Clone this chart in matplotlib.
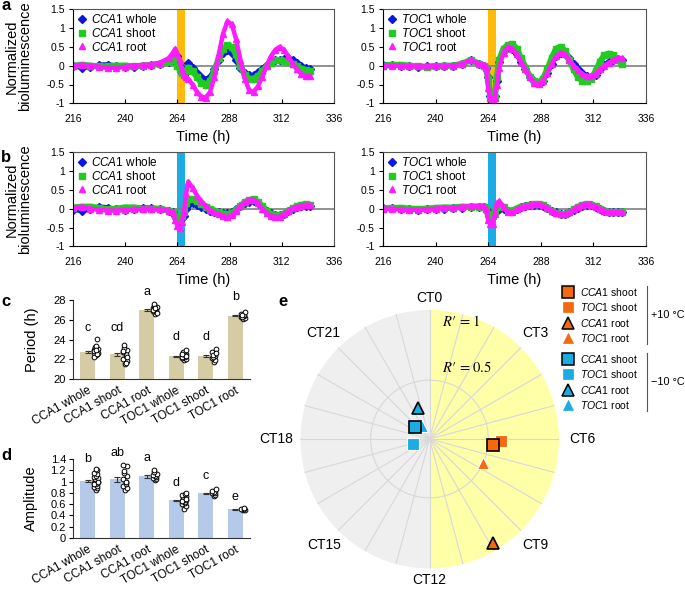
import numpy as np
import matplotlib
matplotlib.use('Agg')
import matplotlib.pyplot as plt
from matplotlib.lines import Line2D
from matplotlib.ticker import FuncFormatter

plt.rcParams['font.family'] = ['Liberation Sans', 'DejaVu Sans']
plt.rcParams['mathtext.fontset'] = 'custom'
plt.rcParams['mathtext.rm'] = 'Liberation Sans'
plt.rcParams['mathtext.it'] = 'Liberation Sans:italic'
plt.rcParams['mathtext.bf'] = 'Liberation Sans:bold'
plt.rcParams['axes.unicode_minus'] = False

# ---- time courses (normalized bioluminescence) ----
t_hours = [216, 220, 224, 228, 232, 236, 240, 244, 248, 252, 256, 260,
           262, 263, 264, 265, 266, 267, 268, 269,
           271, 273, 275, 277, 279, 281, 283, 285, 287, 289, 291, 293, 295, 297,
           299, 301, 303, 305, 307, 309, 311, 313, 315, 317, 319, 321, 323, 325]
pulse = (264, 267.5)

# a: +10 C pulse
a_cca1_whole = [0.00, -0.05, -0.03, 0.02, 0.03, 0.00, -0.04, -0.03, 0.00, 0.03, 0.05, 0.10,
                0.15, 0.20, 0.25, 0.00, -0.20, -0.25, -0.10, 0.08,
                -0.05, -0.20, -0.30, -0.37, -0.30, -0.10, 0.15, 0.35, 0.42, 0.35, 0.15, -0.05, -0.20, -0.25,
                -0.25, -0.18, -0.08, 0.02, 0.10, 0.15, 0.15, 0.18, 0.20, 0.15, 0.08, 0.00, -0.07, -0.10]
a_cca1_shoot = [0.00, 0.02, 0.00, -0.02, -0.02, 0.00, 0.00, -0.02, 0.00, 0.02, 0.05, 0.10,
                0.15, 0.20, 0.00, -0.10, -0.20, -0.25, -0.15, -0.05,
                -0.15, -0.30, -0.45, -0.50, -0.42, -0.15, 0.20, 0.45, 0.55, 0.50, 0.30, 0.00, -0.25, -0.35,
                -0.35, -0.28, -0.15, -0.02, 0.08, 0.14, 0.15, 0.13, 0.10, 0.05, -0.02, -0.08, -0.12, -0.15]
a_cca1_root = [0.00, 0.03, 0.00, -0.03, -0.05, -0.05, -0.03, 0.00, 0.02, 0.03, 0.08, 0.20,
               0.35, 0.45, 0.30, 0.15, -0.10, -0.25, -0.30, -0.35,
               -0.50, -0.70, -0.82, -0.85, -0.70, -0.30, 0.30, 0.85, 1.18, 1.10, 0.70, 0.15, -0.35, -0.65,
               -0.70, -0.55, -0.30, 0.00, 0.25, 0.42, 0.50, 0.42, 0.25, 0.05, -0.10, -0.22, -0.28, -0.28]
a_toc1_whole = [0.03, 0.02, 0.00, -0.02, -0.03, -0.02, 0.00, 0.00, 0.00, 0.05, 0.15, 0.05,
                0.00, -0.05, -0.30, -0.80, -0.85, -0.80, -0.40, 0.10,
                0.40, 0.50, 0.45, 0.30, 0.10, -0.10, -0.30, -0.40, -0.45, -0.40, -0.20, 0.05, 0.25, 0.35,
                0.32, 0.20, 0.05, -0.10, -0.20, -0.27, -0.30, -0.25, -0.10, 0.02, 0.10, 0.15, 0.18, 0.15]
a_toc1_shoot = [0.00, 0.02, 0.02, 0.00, -0.02, -0.03, -0.02, 0.00, 0.00, 0.05, 0.15, 0.05,
                0.00, -0.05, -0.35, -0.85, -0.90, -0.85, -0.30, 0.15,
                0.45, 0.55, 0.58, 0.45, 0.20, -0.05, -0.30, -0.42, -0.45, -0.35, -0.10, 0.20, 0.45, 0.50,
                0.40, 0.15, -0.10, -0.30, -0.40, -0.42, -0.35, -0.15, 0.10, 0.28, 0.32, 0.28, 0.15, 0.05]
a_toc1_root = [0.00, 0.00, 0.00, -0.01, -0.02, -0.02, -0.01, 0.00, 0.00, 0.05, 0.15, 0.05,
               0.02, -0.03, -0.60, -0.85, -0.90, -0.85, -0.50, -0.05,
               0.35, 0.50, 0.45, 0.30, 0.10, -0.10, -0.30, -0.45, -0.48, -0.40, -0.20, 0.05, 0.25, 0.35,
               0.30, 0.15, 0.00, -0.12, -0.22, -0.28, -0.28, -0.22, -0.10, 0.00, 0.08, 0.15, 0.20, 0.20]

# b: -10 C pulse
b_cca1_whole = [-0.03, -0.05, 0.00, 0.05, 0.03, -0.02, -0.04, 0.00, 0.03, 0.02, 0.00, -0.05,
                -0.10, -0.20, -0.30, -0.30, -0.25, -0.20, 0.00, 0.10,
                0.15, 0.10, 0.05, 0.00, -0.05, -0.08, -0.10, -0.12, -0.12, -0.08, 0.00, 0.08, 0.15, 0.19,
                0.20, 0.15, 0.05, -0.05, -0.12, -0.16, -0.17, -0.13, -0.07, -0.01, 0.04, 0.07, 0.08, 0.06]
b_cca1_shoot = [0.03, 0.05, 0.05, 0.02, -0.02, 0.00, 0.03, 0.03, 0.00, 0.00, 0.00, -0.05,
                -0.10, -0.20, -0.30, -0.35, -0.20, -0.10, 0.15, 0.25,
                0.25, 0.20, 0.12, 0.05, 0.00, -0.05, -0.10, -0.13, -0.15, -0.12, -0.03, 0.07, 0.17, 0.23,
                0.25, 0.18, 0.06, -0.06, -0.14, -0.18, -0.18, -0.13, -0.06, 0.01, 0.06, 0.10, 0.12, 0.10]
b_cca1_root = [0.03, 0.05, 0.00, -0.03, -0.05, -0.05, -0.03, -0.02, 0.00, 0.00, -0.02, -0.05,
               -0.10, -0.30, -0.45, -0.50, -0.35, -0.10, 0.40, 0.72,
               0.55, 0.35, 0.20, 0.07, -0.03, -0.10, -0.15, -0.20, -0.22, -0.18, -0.05, 0.08, 0.18, 0.24,
               0.24, 0.15, 0.00, -0.12, -0.19, -0.22, -0.21, -0.14, -0.06, 0.01, 0.05, 0.08, 0.10, 0.10]
b_toc1_whole = [0.02, 0.02, 0.00, -0.02, -0.03, -0.02, 0.00, 0.00, 0.02, 0.03, 0.05, 0.05,
                0.05, 0.00, -0.10, -0.15, -0.15, -0.10, -0.05, 0.00,
                0.00, -0.05, -0.05, 0.00, 0.04, 0.07, 0.09, 0.10, 0.10, 0.08, 0.02, -0.05, -0.10, -0.14,
                -0.15, -0.10, -0.03, 0.03, 0.08, 0.10, 0.10, 0.05, 0.00, -0.05, -0.08, -0.10, -0.10, -0.10]
b_toc1_shoot = [0.00, 0.02, 0.02, 0.00, -0.01, 0.00, 0.02, 0.03, 0.03, 0.05, 0.05, 0.05,
                0.05, 0.00, -0.15, -0.25, -0.20, -0.10, 0.05, 0.10,
                0.05, -0.05, -0.05, 0.00, 0.05, 0.08, 0.10, 0.12, 0.12, 0.09, 0.02, -0.06, -0.12, -0.15,
                -0.15, -0.10, -0.02, 0.05, 0.10, 0.12, 0.11, 0.06, 0.00, -0.05, -0.08, -0.10, -0.10, -0.08]
b_toc1_root = [0.00, 0.00, -0.02, -0.03, -0.03, -0.02, 0.00, 0.02, 0.03, 0.05, 0.07, 0.08,
               0.08, 0.00, -0.30, -0.42, -0.40, -0.15, 0.15, 0.20,
               0.05, -0.08, -0.08, -0.02, 0.04, 0.08, 0.10, 0.12, 0.12, 0.09, 0.02, -0.06, -0.12, -0.15,
               -0.15, -0.10, -0.02, 0.05, 0.10, 0.12, 0.11, 0.05, -0.01, -0.06, -0.09, -0.10, -0.10, -0.10]

# ---- c, d: period and amplitude ----
groups = ['CCA1 whole', 'CCA1 shoot', 'CCA1 root', 'TOC1 whole', 'TOC1 shoot', 'TOC1 root']
period_mean = [22.7, 22.5, 27.0, 22.3, 22.3, 26.4]
period_se = [0.10, 0.15, 0.08, 0.06, 0.10, 0.06]
period_letters = ['c', 'cd', 'a', 'd', 'd', 'b']
period_pts = [
    [22.4, 22.5, 22.6, 22.7, 22.8, 22.9, 23.0, 23.1, 23.2, 22.6, 22.8, 23.3, 24.1, 22.2, 22.5, 22.9],
    [21.5, 21.8, 22.0, 22.3, 22.5, 22.7, 22.9, 23.1, 23.4, 22.2, 22.8, 21.6],
    [26.6, 26.8, 26.9, 27.0, 27.1, 27.2, 27.3, 27.4, 27.6, 26.7, 27.0, 27.2],
    [21.9, 22.0, 22.1, 22.2, 22.3, 22.4, 22.5, 22.6, 22.7, 22.9, 22.2, 22.4, 22.3, 22.5],
    [21.7, 21.9, 22.1, 22.3, 22.5, 22.7, 23.0, 22.2, 22.4, 22.6],
    [26.1, 26.2, 26.3, 26.4, 26.5, 26.6, 26.8, 26.3, 26.5],
]
amp_mean = [1.01, 1.04, 1.09, 0.67, 0.79, 0.51]
amp_se = [0.02, 0.04, 0.02, 0.01, 0.01, 0.01]
amp_letters = ['b', 'ab', 'a', 'd', 'c', 'e']
amp_pts = [
    [0.85, 0.88, 0.90, 0.93, 0.96, 0.98, 1.00, 1.02, 1.04, 1.06, 1.08, 1.10, 1.13, 1.16, 1.20, 1.22, 0.95, 1.00],
    [0.85, 0.88, 0.92, 0.95, 1.00, 1.05, 1.10, 1.15, 1.18, 1.28, 1.30, 1.00],
    [1.02, 1.04, 1.06, 1.08, 1.10, 1.12, 1.14, 1.17, 1.20],
    [0.52, 0.56, 0.60, 0.62, 0.64, 0.66, 0.68, 0.70, 0.72, 0.74, 0.76, 0.78, 0.80, 0.65, 0.70],
    [0.75, 0.77, 0.79, 0.80, 0.82, 0.84, 0.86],
    [0.49, 0.50, 0.51, 0.52, 0.53],
]

# ---- e: phase (CT) and R' ----
e_labels = ['CCA1 shoot', 'TOC1 shoot', 'CCA1 root', 'TOC1 root']
e_ct_plus10 = [6.36, 6.1, 9.9, 7.6]
e_r_plus10 = [0.54, 0.61, 1.04, 0.50]
e_ct_minus10 = [20.6, 16.9, 22.6, 22.1]
e_r_minus10 = [0.16, 0.15, 0.28, 0.13]

W, H = 685, 590
fig = plt.figure(figsize=(W / 100, H / 100), dpi=100)


def box(l, t, r, b):
    return [l / W, 1 - b / H, (r - l) / W, (b - t) / H]


def gfmt(v, pos):
    return '%g' % v


def ital(name):
    gene, part = name.split(' ')
    return r'$\it{%s}$ %s' % (gene, part)


c_blue, c_green, c_mag = '#0A14E6', '#1FCC1F', '#FF1AFF'


def ts_panel(ax, series, gene, span_color, ylabel):
    ax.axvspan(pulse[0], pulse[1], color=span_color, lw=0, zorder=1)
    ax.axhline(0, color='#7f7f7f', lw=1.2, zorder=1.5)
    styles = [(c_blue, 'D', 4.0, 3.5), (c_green, 's', 4.5, 4.5), (c_mag, '^', 4.5, 3.2)]
    handles = []
    for vals, (col, mk, ms, lw), part in zip(series, styles, ['whole', 'shoot', 'root']):
        ax.plot(t_hours, vals, color=col, lw=lw, marker=mk, ms=ms, mec=col, zorder=2)
        handles.append(Line2D([], [], ls='none', marker=mk, color=col, ms=ms + 0.5,
                              label=ital(gene + ' ' + part)))
    ax.set_xlim(216, 336)
    ax.set_ylim(-1, 1.5)
    ax.set_xticks(range(216, 337, 24))
    ax.set_yticks([-1, -0.5, 0, 0.5, 1, 1.5])
    ax.yaxis.set_major_formatter(FuncFormatter(gfmt))
    ax.tick_params(axis='x', direction='in', length=3, labelsize=7.5, pad=8)
    ax.tick_params(axis='y', direction='out', length=3, labelsize=7.5, pad=3)
    for s in ['top', 'right']:
        ax.spines[s].set_color('#555555')
    for s in ax.spines.values():
        s.set_linewidth(0.8)
    ax.set_xlabel('Time (h)', fontsize=10.5, labelpad=4)
    if ylabel:
        ax.set_ylabel('Normalized\nbioluminescence', fontsize=10.5, linespacing=0.95)
        ax.yaxis.set_label_coords(-0.155, 0.5)
    ax.legend(handles=handles, loc='upper left', frameon=False, fontsize=8.5,
              handlelength=0.8, handletextpad=0.35, labelspacing=0.05,
              borderaxespad=0.15, borderpad=0.2)


ts_panel(fig.add_axes(box(73, 9.3, 334, 103.3)),
         [a_cca1_whole, a_cca1_shoot, a_cca1_root], 'CCA1', '#FFBA0A', True)
ts_panel(fig.add_axes(box(383, 9.3, 646, 103.3)),
         [a_toc1_whole, a_toc1_shoot, a_toc1_root], 'TOC1', '#FFBA0A', False)
ts_panel(fig.add_axes(box(73, 152.3, 334, 246.3)),
         [b_cca1_whole, b_cca1_shoot, b_cca1_root], 'CCA1', '#1AACE3', True)
ts_panel(fig.add_axes(box(383, 152.3, 646, 246.3)),
         [b_toc1_whole, b_toc1_shoot, b_toc1_root], 'TOC1', '#1AACE3', False)


def bar_panel(ax, means, ses, pts, letters, letter_y, color, ylim, yticks, ylabel, ylab_x):
    x = np.arange(len(means))
    ax.bar(x, np.array(means) - ylim[0], bottom=ylim[0], width=0.5, color=color, zorder=1)
    ax.errorbar(x, means, yerr=ses, fmt='none', ecolor='#333333', elinewidth=0.8,
                capsize=2, capthick=0.8, zorder=2)
    for i, p in enumerate(pts):
        n = len(p)
        xs = i + 0.27 + 0.07 * np.sin(np.arange(n) * 2.3)
        ax.plot(xs, p, ls='none', marker='o', ms=3.4, mfc='white', mec='black',
                mew=0.7, zorder=3)
        ax.text(i, letter_y[i], letters[i], ha='center', va='center', fontsize=9)
    ax.set_xlim(-0.5, len(means) - 0.5)
    ax.set_ylim(*ylim)
    ax.set_yticks(yticks)
    ax.yaxis.set_major_formatter(FuncFormatter(gfmt))
    ax.set_xticks(x)
    ax.set_xticklabels(groups, rotation=30, ha='right', rotation_mode='anchor', fontsize=8.5)
    ax.tick_params(axis='x', length=0, pad=4)
    ax.tick_params(axis='y', direction='out', length=3, labelsize=8, pad=2)
    ax.spines['top'].set_visible(False)
    ax.spines['right'].set_visible(False)
    for s in ['left', 'bottom']:
        ax.spines[s].set_linewidth(0.8)
        ax.spines[s].set_color('#333333')
    ax.set_ylabel(ylabel, fontsize=10.5)
    ax.yaxis.set_label_coords(ylab_x, 0.5)


bar_panel(fig.add_axes(box(73, 300, 250, 379)), period_mean, period_se, period_pts,
          period_letters, [25.2, 25.2, 28.8, 24.3, 24.3, 28.3], '#D5CCA6',
          (20, 28), [20, 22, 24, 26, 28], 'Period (h)', -0.19)
bar_panel(fig.add_axes(box(73, 459, 250, 538)), amp_mean, amp_se, amp_pts,
          amp_letters, [1.4, 1.5, 1.42, 0.97, 1.1, 0.73], '#B4CAE8',
          (0, 1.4), np.arange(0, 1.41, 0.2), 'Amplitude', -0.2)

# ---- e: polar plot ----
ax_e = fig.add_axes(box(300, 309.5, 559, 568.5), projection='polar')
ax_e.set_theta_zero_location('N')
ax_e.set_theta_direction(-1)
rmax = 1.1
ax_e.set_ylim(0, rmax)
ax_e.set_facecolor('none')
ax_e.spines['polar'].set_visible(False)
th = np.linspace(0, np.pi, 200)
ax_e.fill_between(th, 0, rmax, color='#FFFFA8', lw=0, zorder=0)
ax_e.fill_between(th + np.pi, 0, rmax, color='#EFEFEF', lw=0, zorder=0)
ax_e.set_xticks(np.deg2rad(np.arange(0, 360, 15)))
ax_e.set_xticklabels([])
ax_e.set_yticks([0.5])
ax_e.set_yticklabels([])
ax_e.grid(True, color='#D8D8D8', lw=0.8)
ax_e.tick_params(length=0)

for k in range(8):
    theta = np.deg2rad(k * 45)
    ax_e.text(theta, 1.2 + 0.1 * abs(np.sin(theta)), 'CT%d' % (3 * k),
              ha='center', va='center', fontsize=10)
serif = ['STIXGeneral', 'DejaVu Serif']
ax_e.text(np.deg2rad(5.9), 1.0, "$R$\u2032 = 1", family=serif, math_fontfamily='stix',
          fontsize=10.5, ha='left', va='center')
ax_e.text(np.deg2rad(9.5), 0.62, "$R$\u2032 = 0.5", family=serif, math_fontfamily='stix',
          fontsize=10.5, ha='left', va='center')

c_or, c_bl = '#F5680F', '#1AACE3'
mk_style = {'CCA1 shoot': ('s', True), 'TOC1 shoot': ('s', False),
            'CCA1 root': ('^', True), 'TOC1 root': ('^', False)}
draw_order = [1, 3, 0, 2]
for cts, rs, col in [(e_ct_plus10, e_r_plus10, c_or), (e_ct_minus10, e_r_minus10, c_bl)]:
    for i in draw_order:
        mk, edged = mk_style[e_labels[i]]
        ax_e.plot(np.deg2rad(cts[i] * 15), rs[i], ls='none', marker=mk, ms=8.5,
                  mfc=col, mec='black' if edged else 'white', mew=1.2 if edged else 0.8,
                  clip_on=False, zorder=4)

# legend of e (pixel coordinate overlay)
ax_px = fig.add_axes([0, 0, 1, 1])
ax_px.set_xlim(0, W)
ax_px.set_ylim(H, 0)
ax_px.axis('off')
ax_px.patch.set_alpha(0)
for g, (col, y0, temp) in enumerate([(c_or, 292, '+10 °C'), (c_bl, 359, '\u221210 °C')]):
    for i, lab in enumerate(e_labels):
        y = y0 + 15.3 * i
        mk, edged = mk_style[lab]
        ax_px.plot(568, y, ls='none', marker=mk, ms=8 if edged else 7, mfc=col,
                   mec='black' if edged else col, mew=1.1 if edged else 0.5)
        ax_px.text(580, y, ital(lab), fontsize=7.5, va='center', ha='left')
    ax_px.plot([647, 647], [y0 - 6, y0 + 3 * 15.3 + 6], color='#555555', lw=0.8)
    ax_px.text(651, y0 + 1.5 * 15.3, temp, fontsize=7.8, va='center', ha='left')

# panel letters
for lab, x, y in [('a', 1, 6), ('b', 1, 157), ('c', 1, 302), ('d', 1, 455), ('e', 278, 302)]:
    ax_px.text(x, y, lab, fontsize=12, fontweight='bold', ha='left', va='center')

fig.savefig('out.png', dpi=100)
